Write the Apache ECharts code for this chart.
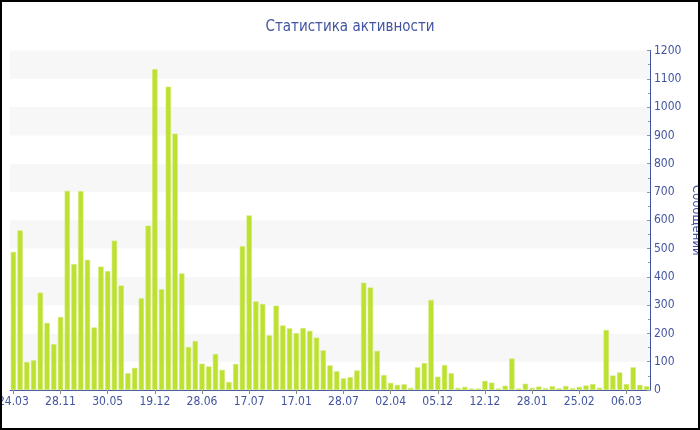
<!DOCTYPE html>
<html>
<head>
<meta charset="utf-8">
<script src="https://cdn.jsdelivr.net/npm/echarts@6/dist/echarts.min.js"></script>
<style>
html,body{margin:0;padding:0;background:#fff;}
#chart{width:700px;height:430px;}
</style>
</head>
<body>
<div id="chart"></div>
<script>
// Tick labels shown every 7th category
const tickLabels = ['24.03','28.11','30.05','19.12','28.06','17.07','17.01','28.07','02.04','05.12','12.12','28.01','25.02','06.03'];
// Messages per period (95 bars)
const messages = [
  488, 564, 99, 105, 344, 237, 162, 258, 704, 445,
  703, 460, 221, 436, 420, 528, 369, 59, 78, 324,
  581, 1134, 356, 1072, 906, 412, 152, 173, 93, 83,
  127, 71, 28, 92, 508, 617, 313, 304, 193, 298,
  228, 218, 201, 219, 209, 185, 140, 87, 66, 41,
  45, 69, 379, 362, 138, 53, 25, 18, 20, 7,
  80, 95, 318, 47, 88, 59, 7, 11, 5, 5,
  32, 26, 5, 15, 111, 5, 22, 7, 12, 6,
  13, 6, 14, 6, 11, 16, 21, 8, 212, 51,
  62, 21, 80, 18, 13
];
const labelStep = 7;
const categories = messages.map((_, i) => (i % labelStep === 0 ? tickLabels[i / labelStep] : ''));

const FONT = "'DejaVu Sans Condensed', 'DejaVu Sans', sans-serif";
const BLUE = '#4254a0';

const chart = echarts.init(document.getElementById('chart'), null, {renderer: 'canvas'});
chart.setOption({
  animation: false,
  backgroundColor: '#ffffff',
  title: {
    text: 'Статистика активности',
    left: 'center',
    top: 15,
    textStyle: {fontFamily: FONT, fontSize: 15, fontWeight: 'normal', color: BLUE}
  },
  grid: {left: 10, right: 50, top: 50.5, bottom: 40, containLabel: false, outerBoundsMode: 'none'},
  xAxis: {
    type: 'category',
    data: categories,
    boundaryGap: true,
    axisLine: {lineStyle: {color: BLUE, width: 1}},
    axisTick: {show: true, alignWithLabel: true, interval: labelStep - 1, length: 4, lineStyle: {color: '#888'}},
    axisLabel: {interval: labelStep - 1, color: BLUE, fontFamily: FONT, fontSize: 12, margin: 6},
    splitLine: {show: false}
  },
  yAxis: {
    type: 'value',
    position: 'right',
    min: 0,
    max: 1200,
    interval: 100,
    name: 'Сообщений',
    nameLocation: 'middle',
    nameRotate: -90,
    nameGap: 40,
    nameMoveOverlap: false,
    nameTextStyle: {color: BLUE, fontFamily: FONT, fontSize: 13},
    axisLine: {show: true, lineStyle: {color: BLUE, width: 1}},
    axisTick: {show: true, inside: true, length: 3, lineStyle: {color: '#8a93b8'}},
    minorTick: {show: true, splitNumber: 2, length: 2, lineStyle: {color: '#8a93b8'}},
    axisLabel: {color: BLUE, fontFamily: FONT, fontSize: 12, margin: 4, formatter: (v) => String(v)},
    splitLine: {show: false},
    splitArea: {show: true, areaStyle: {color: ['#ffffff', '#f7f7f7']}}
  },
  series: [{
    type: 'bar',
    data: messages,
    barCategoryGap: '22%',
    itemStyle: {color: '#bce130', borderColor: '#cfea6a', borderWidth: 0.6}
  }],
  graphic: [{
    type: 'rect',
    z: 100,
    silent: true,
    shape: {x: 1, y: 1, width: 698, height: 428},
    style: {fill: 'none', stroke: '#000', lineWidth: 2}
  }]
});
</script>
</body>
</html>
